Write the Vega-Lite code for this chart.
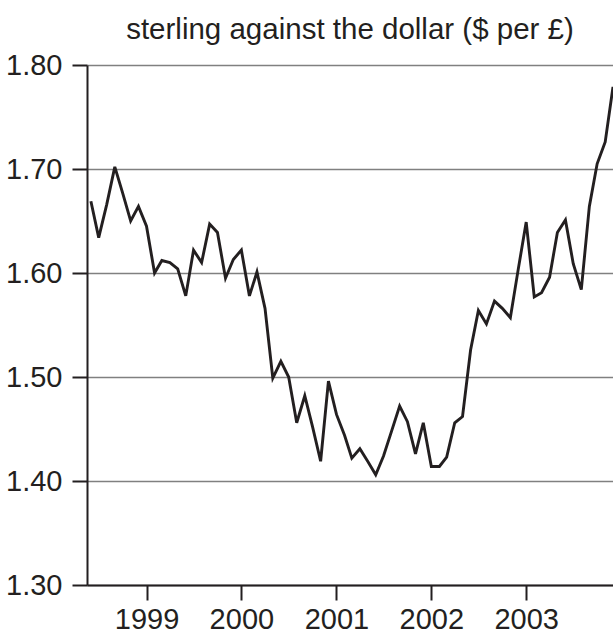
{
  "$schema": "https://vega.github.io/schema/vega-lite/v6.json",
  "width": 526,
  "height": 520,
  "autosize": {"type": "none"},
  "padding": {"left": 87, "top": 65, "right": 0, "bottom": 50},
  "background": "white",
  "title": {
    "text": "sterling against the dollar ($ per £)",
    "anchor": "middle",
    "frame": "group",
    "font": "Liberation Sans",
    "fontSize": 29.5,
    "fontWeight": "normal",
    "color": "#231f20",
    "baseline": "alphabetic",
    "offset": -17
  },
  "config": {
    "view": {"stroke": null},
    "axis": {
      "labelFont": "Liberation Sans",
      "labelFontSize": 29,
      "labelColor": "#231f20",
      "domainColor": "#231f20",
      "domainWidth": 2,
      "tickColor": "#231f20",
      "tickWidth": 2,
      "tickSize": 15,
      "title": null
    }
  },
  "data": {
    "values": [
      {"month": "1998-06-01", "rate": 1.669},
      {"month": "1998-07-01", "rate": 1.634},
      {"month": "1998-08-01", "rate": 1.666},
      {"month": "1998-09-01", "rate": 1.702},
      {"month": "1998-10-01", "rate": 1.677},
      {"month": "1998-11-01", "rate": 1.650},
      {"month": "1998-12-01", "rate": 1.664},
      {"month": "1999-01-01", "rate": 1.645},
      {"month": "1999-02-01", "rate": 1.600},
      {"month": "1999-03-01", "rate": 1.612},
      {"month": "1999-04-01", "rate": 1.610},
      {"month": "1999-05-01", "rate": 1.604},
      {"month": "1999-06-01", "rate": 1.578},
      {"month": "1999-07-01", "rate": 1.622},
      {"month": "1999-08-01", "rate": 1.610},
      {"month": "1999-09-01", "rate": 1.647},
      {"month": "1999-10-01", "rate": 1.639},
      {"month": "1999-11-01", "rate": 1.595},
      {"month": "1999-12-01", "rate": 1.613},
      {"month": "2000-01-01", "rate": 1.622},
      {"month": "2000-02-01", "rate": 1.578},
      {"month": "2000-03-01", "rate": 1.601},
      {"month": "2000-04-01", "rate": 1.566},
      {"month": "2000-05-01", "rate": 1.499},
      {"month": "2000-06-01", "rate": 1.515},
      {"month": "2000-07-01", "rate": 1.500},
      {"month": "2000-08-01", "rate": 1.456},
      {"month": "2000-09-01", "rate": 1.482},
      {"month": "2000-10-01", "rate": 1.452},
      {"month": "2000-11-01", "rate": 1.419},
      {"month": "2000-12-01", "rate": 1.496},
      {"month": "2001-01-01", "rate": 1.464},
      {"month": "2001-02-01", "rate": 1.444},
      {"month": "2001-03-01", "rate": 1.422},
      {"month": "2001-04-01", "rate": 1.431},
      {"month": "2001-05-01", "rate": 1.419},
      {"month": "2001-06-01", "rate": 1.406},
      {"month": "2001-07-01", "rate": 1.424},
      {"month": "2001-08-01", "rate": 1.448},
      {"month": "2001-09-01", "rate": 1.472},
      {"month": "2001-10-01", "rate": 1.457},
      {"month": "2001-11-01", "rate": 1.426},
      {"month": "2001-12-01", "rate": 1.456},
      {"month": "2002-01-01", "rate": 1.414},
      {"month": "2002-02-01", "rate": 1.414},
      {"month": "2002-03-01", "rate": 1.423},
      {"month": "2002-04-01", "rate": 1.456},
      {"month": "2002-05-01", "rate": 1.462},
      {"month": "2002-06-01", "rate": 1.526},
      {"month": "2002-07-01", "rate": 1.564},
      {"month": "2002-08-01", "rate": 1.551},
      {"month": "2002-09-01", "rate": 1.573},
      {"month": "2002-10-01", "rate": 1.566},
      {"month": "2002-11-01", "rate": 1.557},
      {"month": "2002-12-01", "rate": 1.603},
      {"month": "2003-01-01", "rate": 1.649},
      {"month": "2003-02-01", "rate": 1.577},
      {"month": "2003-03-01", "rate": 1.581},
      {"month": "2003-04-01", "rate": 1.596},
      {"month": "2003-05-01", "rate": 1.639},
      {"month": "2003-06-01", "rate": 1.651},
      {"month": "2003-07-01", "rate": 1.609},
      {"month": "2003-08-01", "rate": 1.584},
      {"month": "2003-09-01", "rate": 1.664},
      {"month": "2003-10-01", "rate": 1.705},
      {"month": "2003-11-01", "rate": 1.726},
      {"month": "2003-12-01", "rate": 1.779}
    ]
  },
  "mark": {"type": "line", "color": "#231f20", "strokeWidth": 2.9, "strokeJoin": "miter", "clip": false},
  "encoding": {
    "x": {
      "field": "month",
      "type": "temporal",
      "scale": {
        "type": "utc",
        "domain": [
          {"year": 1998, "month": 5, "date": 17, "utc": true},
          {"year": 2003, "month": 12, "date": 1, "utc": true}
        ]
      },
      "axis": {
        "values": [
          {"year": 1999, "month": 1, "date": 1, "utc": true},
          {"year": 2000, "month": 1, "date": 1, "utc": true},
          {"year": 2001, "month": 1, "date": 1, "utc": true},
          {"year": 2002, "month": 1, "date": 1, "utc": true},
          {"year": 2003, "month": 1, "date": 1, "utc": true}
        ],
        "format": "%Y",
        "grid": false,
        "labelPadding": 5,
        "labelFlush": false,
        "labelOverlap": false
      }
    },
    "y": {
      "field": "rate",
      "type": "quantitative",
      "scale": {"domain": [1.3, 1.8], "nice": false, "zero": false},
      "axis": {
        "values": [1.3, 1.4, 1.5, 1.6, 1.7, 1.8],
        "format": ".2f",
        "grid": true,
        "gridColor": "#808080",
        "gridWidth": 1.6,
        "labelPadding": 10,
        "labelFlush": false
      }
    }
  }
}
